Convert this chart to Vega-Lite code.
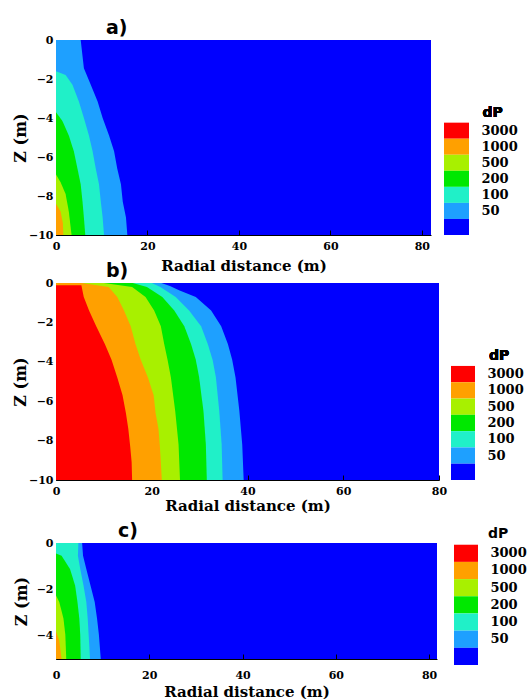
{
  "$schema": "https://vega.github.io/schema/vega-lite/v6.json",
  "padding": {"left": 12, "top": 19, "right": 0, "bottom": 0},
  "background": "white",
  "config": {
    "view": {"stroke": null},
    "axis": {"labelFont": "DejaVu Serif", "labelFontWeight": "bold", "labelFontSize": 11, "labelColor": "#000", "titleFont": "DejaVu Serif", "titleFontWeight": "bold", "titleFontSize": 15, "titleColor": "#000", "domainColor": "#000", "tickColor": "#000", "grid": false, "labelFlush": false},
    "title": {"font": "DejaVu Sans", "fontWeight": "bold", "fontSize": 19, "color": "#000", "anchor": "start", "frame": "group"}
  },
  "datasets": {
    "contours": [
      {"panel": "a", "level": 50, "z": 0, "r": 5.4},
      {"panel": "a", "level": 50, "z": -1.45, "r": 6.1},
      {"panel": "a", "level": 50, "z": -2.3, "r": 7.6},
      {"panel": "a", "level": 50, "z": -3.16, "r": 9.1},
      {"panel": "a", "level": 50, "z": -4, "r": 10.2},
      {"panel": "a", "level": 50, "z": -4.9, "r": 11.6},
      {"panel": "a", "level": 50, "z": -5.7, "r": 12.7},
      {"panel": "a", "level": 50, "z": -6.6, "r": 13.4},
      {"panel": "a", "level": 50, "z": -7.4, "r": 14.2},
      {"panel": "a", "level": 50, "z": -8.3, "r": 14.6},
      {"panel": "a", "level": 50, "z": -9.1, "r": 15.3},
      {"panel": "a", "level": 50, "z": -10, "r": 15.6},
      {"panel": "a", "level": 100, "z": -1.6, "r": 0},
      {"panel": "a", "level": 100, "z": -1.8, "r": 2.1},
      {"panel": "a", "level": 100, "z": -2.3, "r": 3.6},
      {"panel": "a", "level": 100, "z": -3.16, "r": 5.0},
      {"panel": "a", "level": 100, "z": -4, "r": 6.1},
      {"panel": "a", "level": 100, "z": -4.9, "r": 7.2},
      {"panel": "a", "level": 100, "z": -5.7, "r": 8.0},
      {"panel": "a", "level": 100, "z": -6.6, "r": 8.7},
      {"panel": "a", "level": 100, "z": -7.4, "r": 9.4},
      {"panel": "a", "level": 100, "z": -8.3, "r": 9.8},
      {"panel": "a", "level": 100, "z": -9.1, "r": 10.2},
      {"panel": "a", "level": 100, "z": -10, "r": 10.5},
      {"panel": "a", "level": 200, "z": -3.7, "r": 0},
      {"panel": "a", "level": 200, "z": -4.15, "r": 1.4},
      {"panel": "a", "level": 200, "z": -4.9, "r": 2.8},
      {"panel": "a", "level": 200, "z": -5.7, "r": 3.9},
      {"panel": "a", "level": 200, "z": -6.6, "r": 4.7},
      {"panel": "a", "level": 200, "z": -7.4, "r": 5.4},
      {"panel": "a", "level": 200, "z": -8.3, "r": 5.8},
      {"panel": "a", "level": 200, "z": -9.1, "r": 6.1},
      {"panel": "a", "level": 200, "z": -10, "r": 6.4},
      {"panel": "a", "level": 500, "z": -6.9, "r": 0},
      {"panel": "a", "level": 500, "z": -7.3, "r": 1.0},
      {"panel": "a", "level": 500, "z": -7.9, "r": 2.1},
      {"panel": "a", "level": 500, "z": -8.8, "r": 2.8},
      {"panel": "a", "level": 500, "z": -10, "r": 3.4},
      {"panel": "a", "level": 1000, "z": -8.4, "r": 0},
      {"panel": "a", "level": 1000, "z": -8.8, "r": 1.0},
      {"panel": "a", "level": 1000, "z": -9.4, "r": 1.5},
      {"panel": "a", "level": 1000, "z": -10, "r": 1.6},

      {"panel": "b", "level": 50, "z": 0, "r": 22},
      {"panel": "b", "level": 50, "z": -0.15, "r": 23.8},
      {"panel": "b", "level": 50, "z": -0.37, "r": 25.7},
      {"panel": "b", "level": 50, "z": -0.71, "r": 29.2},
      {"panel": "b", "level": 50, "z": -1.4, "r": 32.4},
      {"panel": "b", "level": 50, "z": -2.2, "r": 34.5},
      {"panel": "b", "level": 50, "z": -3.1, "r": 35.9},
      {"panel": "b", "level": 50, "z": -3.9, "r": 36.8},
      {"panel": "b", "level": 50, "z": -4.8, "r": 37.5},
      {"panel": "b", "level": 50, "z": -6.5, "r": 38.3},
      {"panel": "b", "level": 50, "z": -8.2, "r": 38.9},
      {"panel": "b", "level": 50, "z": -10, "r": 39.2},
      {"panel": "b", "level": 100, "z": 0, "r": 20},
      {"panel": "b", "level": 100, "z": -0.2, "r": 21.8},
      {"panel": "b", "level": 100, "z": -0.71, "r": 25.0},
      {"panel": "b", "level": 100, "z": -1.4, "r": 27.8},
      {"panel": "b", "level": 100, "z": -2.2, "r": 30.3},
      {"panel": "b", "level": 100, "z": -3.1, "r": 31.7},
      {"panel": "b", "level": 100, "z": -3.9, "r": 32.7},
      {"panel": "b", "level": 100, "z": -4.8, "r": 33.4},
      {"panel": "b", "level": 100, "z": -6.5, "r": 34.1},
      {"panel": "b", "level": 100, "z": -8.2, "r": 34.6},
      {"panel": "b", "level": 100, "z": -10, "r": 34.8},
      {"panel": "b", "level": 200, "z": 0, "r": 16},
      {"panel": "b", "level": 200, "z": -0.2, "r": 19},
      {"panel": "b", "level": 200, "z": -0.71, "r": 22.2},
      {"panel": "b", "level": 200, "z": -1.4, "r": 24.7},
      {"panel": "b", "level": 200, "z": -2.2, "r": 26.8},
      {"panel": "b", "level": 200, "z": -3.1, "r": 28.2},
      {"panel": "b", "level": 200, "z": -3.9, "r": 29.2},
      {"panel": "b", "level": 200, "z": -4.8, "r": 29.9},
      {"panel": "b", "level": 200, "z": -6.5, "r": 30.8},
      {"panel": "b", "level": 200, "z": -8.2, "r": 31.3},
      {"panel": "b", "level": 200, "z": -10, "r": 31.5},
      {"panel": "b", "level": 500, "z": 0, "r": 10},
      {"panel": "b", "level": 500, "z": -0.2, "r": 15.9},
      {"panel": "b", "level": 500, "z": -0.71, "r": 18.7},
      {"panel": "b", "level": 500, "z": -1.4, "r": 20.5},
      {"panel": "b", "level": 500, "z": -2.2, "r": 21.9},
      {"panel": "b", "level": 500, "z": -3.1, "r": 22.6},
      {"panel": "b", "level": 500, "z": -3.9, "r": 23.3},
      {"panel": "b", "level": 500, "z": -4.8, "r": 24.0},
      {"panel": "b", "level": 500, "z": -6.5, "r": 24.9},
      {"panel": "b", "level": 500, "z": -8.2, "r": 25.6},
      {"panel": "b", "level": 500, "z": -10, "r": 25.9},
      {"panel": "b", "level": 1000, "z": 0, "r": 5.3},
      {"panel": "b", "level": 1000, "z": -0.2, "r": 11.0},
      {"panel": "b", "level": 1000, "z": -0.71, "r": 12.8},
      {"panel": "b", "level": 1000, "z": -1.4, "r": 14.2},
      {"panel": "b", "level": 1000, "z": -2.2, "r": 15.6},
      {"panel": "b", "level": 1000, "z": -3.1, "r": 16.6},
      {"panel": "b", "level": 1000, "z": -3.9, "r": 17.7},
      {"panel": "b", "level": 1000, "z": -4.8, "r": 19.2},
      {"panel": "b", "level": 1000, "z": -5.7, "r": 20.4},
      {"panel": "b", "level": 1000, "z": -6.6, "r": 20.8},
      {"panel": "b", "level": 1000, "z": -7.4, "r": 21.4},
      {"panel": "b", "level": 1000, "z": -8.3, "r": 21.7},
      {"panel": "b", "level": 1000, "z": -9.1, "r": 21.9},
      {"panel": "b", "level": 1000, "z": -10, "r": 22.1},
      {"panel": "b", "level": 3000, "z": -0.12, "r": 5.3},
      {"panel": "b", "level": 3000, "z": -0.71, "r": 5.8},
      {"panel": "b", "level": 3000, "z": -1.4, "r": 6.9},
      {"panel": "b", "level": 3000, "z": -2.2, "r": 8.4},
      {"panel": "b", "level": 3000, "z": -3.1, "r": 10.2},
      {"panel": "b", "level": 3000, "z": -3.9, "r": 11.6},
      {"panel": "b", "level": 3000, "z": -4.8, "r": 12.8},
      {"panel": "b", "level": 3000, "z": -5.7, "r": 13.9},
      {"panel": "b", "level": 3000, "z": -6.6, "r": 14.6},
      {"panel": "b", "level": 3000, "z": -7.4, "r": 15.1},
      {"panel": "b", "level": 3000, "z": -8.3, "r": 15.5},
      {"panel": "b", "level": 3000, "z": -9.1, "r": 15.8},
      {"panel": "b", "level": 3000, "z": -10, "r": 15.9},

      {"panel": "c", "level": 50, "z": 0, "r": 5.6},
      {"panel": "c", "level": 50, "z": -0.55, "r": 5.8},
      {"panel": "c", "level": 50, "z": -1.12, "r": 6.5},
      {"panel": "c", "level": 50, "z": -1.83, "r": 7.4},
      {"panel": "c", "level": 50, "z": -2.54, "r": 8.3},
      {"panel": "c", "level": 50, "z": -3.25, "r": 8.8},
      {"panel": "c", "level": 50, "z": -3.96, "r": 9.2},
      {"panel": "c", "level": 50, "z": -5, "r": 9.6},
      {"panel": "c", "level": 100, "z": 0, "r": 4.8},
      {"panel": "c", "level": 100, "z": -0.55, "r": 4.7},
      {"panel": "c", "level": 100, "z": -1.12, "r": 5.2},
      {"panel": "c", "level": 100, "z": -1.83, "r": 5.9},
      {"panel": "c", "level": 100, "z": -2.54, "r": 6.5},
      {"panel": "c", "level": 100, "z": -3.25, "r": 6.8},
      {"panel": "c", "level": 100, "z": -3.96, "r": 7.0},
      {"panel": "c", "level": 100, "z": -5, "r": 7.3},
      {"panel": "c", "level": 200, "z": -0.45, "r": 0},
      {"panel": "c", "level": 200, "z": -0.55, "r": 1.2},
      {"panel": "c", "level": 200, "z": -1.12, "r": 3.0},
      {"panel": "c", "level": 200, "z": -1.83, "r": 4.1},
      {"panel": "c", "level": 200, "z": -2.54, "r": 4.6},
      {"panel": "c", "level": 200, "z": -3.25, "r": 5.0},
      {"panel": "c", "level": 200, "z": -3.96, "r": 5.2},
      {"panel": "c", "level": 200, "z": -5, "r": 5.3},
      {"panel": "c", "level": 500, "z": -2.26, "r": 0},
      {"panel": "c", "level": 500, "z": -2.54, "r": 0.7},
      {"panel": "c", "level": 500, "z": -3.25, "r": 1.6},
      {"panel": "c", "level": 500, "z": -3.96, "r": 2.0},
      {"panel": "c", "level": 500, "z": -5, "r": 2.2},
      {"panel": "c", "level": 1000, "z": -3.8, "r": 0},
      {"panel": "c", "level": 1000, "z": -4.2, "r": 0.7},
      {"panel": "c", "level": 1000, "z": -5, "r": 1.2}
    ],
    "legend": [
      {"level": 3000}, {"level": 1000}, {"level": 500}, {"level": 200}, {"level": 100}, {"level": 50}, {"level": 0}
    ]
  },
  "vconcat": [
    {
      "hconcat": [
        {
          "title": {"text": "a)", "dx": 50, "offset": -4},
          "width": 375, "height": 195,
          "view": {"fill": "#0000FF", "stroke": null},
          "data": {"name": "contours"},
          "transform": [{"filter": "datum.panel == 'a'"}],
          "mark": {"type": "area", "orient": "horizontal"},
          "encoding": {
            "y": {"field": "z", "type": "quantitative", "scale": {"domain": [-10, 0], "nice": false}, "axis": {"values": [0, -2, -4, -6, -8, -10], "title": "Z (m)", "tickSize": -5, "labelPadding": 8, "titlePadding": 0, "titleFontSize": 16}},
            "x": {"field": "r", "type": "quantitative", "stack": null, "scale": {"domain": [0, 82], "nice": false}, "axis": {"values": [0, 20, 40, 60, 80], "title": "Radial distance (m)", "tickSize": -5, "labelPadding": 10, "titlePadding": 7}},
            "x2": {"datum": 0},
            "color": {"field": "level", "type": "ordinal", "scale": {"domain": [0, 50, 100, 200, 500, 1000, 3000], "range": ["#0000FF", "#1EA0FF", "#20F0C8", "#00E800", "#A8F000", "#FFA000", "#FF0000"]}, "legend": null}
          }
        },
        {
          "width": 25, "height": 195,
          "data": {"name": "legend"},
          "layer": [
            {
              "mark": {"type": "rect"},
              "encoding": {
                "y": {"field": "level", "type": "ordinal", "scale": {"domain": ["p1", "p2", "p3", "p4", "dP", 3000, 1000, 500, 200, 100, 50, 0], "paddingInner": 0, "paddingOuter": 0.075, "align": 1}, "axis": {"orient": "right", "bandPosition": 1, "ticks": false, "domain": false, "labelPadding": 12, "labelFontSize": 13, "title": null, "labelExpr": "indexof(['3000','1000','500','200','100','50'], datum.label) >= 0 ? datum.label : ''"}},
                "color": {"field": "level", "type": "ordinal", "legend": null}
              }
            },
            {
              "mark": {"type": "text", "align": "left", "baseline": "middle", "dx": 26, "dy": -2, "font": "DejaVu Sans", "fontWeight": "bold", "fontSize": 14, "color": "#000"},
              "encoding": {
                "y": {"datum": "dP", "type": "ordinal"},
                "text": {"value": "dP"}
              }
            }
          ]
        }
      ],
      "spacing": 13
    },
    {
      "vconcat": [
        {
          "hconcat": [
            {
              "title": {"text": "b)", "dx": 50, "offset": -4},
              "width": 383, "height": 197,
              "view": {"fill": "#0000FF", "stroke": null},
              "data": {"name": "contours"},
              "transform": [{"filter": "datum.panel == 'b'"}],
              "mark": {"type": "area", "orient": "horizontal"},
              "encoding": {
                "y": {"field": "z", "type": "quantitative", "scale": {"domain": [-10, 0], "nice": false}, "axis": {"values": [0, -2, -4, -6, -8, -10], "title": "Z (m)", "tickSize": -5, "labelPadding": 8, "titlePadding": 0, "titleFontSize": 16}},
                "x": {"field": "r", "type": "quantitative", "stack": null, "scale": {"domain": [0, 80], "nice": false}, "axis": {"values": [0, 20, 40, 60, 80], "title": "Radial distance (m)", "tickSize": -5, "labelPadding": 10, "titlePadding": 2}},
                "x2": {"datum": 0},
                "color": {"field": "level", "type": "ordinal", "legend": null}
              }
            },
            {
              "width": 24, "height": 197,
              "data": {"name": "legend"},
              "layer": [
                {
                  "mark": {"type": "rect"},
                  "encoding": {
                    "y": {"field": "level", "type": "ordinal", "scale": {"domain": ["p1", "p2", "p3", "p4", "dP", 3000, 1000, 500, 200, 100, 50, 0], "paddingInner": 0, "paddingOuter": 0.045, "align": 1}, "axis": {"orient": "right", "bandPosition": 1, "ticks": false, "domain": false, "labelPadding": 12, "labelFontSize": 13, "title": null, "labelExpr": "indexof(['3000','1000','500','200','100','50'], datum.label) >= 0 ? datum.label : ''"}},
                    "color": {"field": "level", "type": "ordinal", "legend": null}
                  }
                },
                {
                  "mark": {"type": "text", "align": "left", "baseline": "middle", "dx": 26, "dy": -2, "font": "DejaVu Sans", "fontWeight": "bold", "fontSize": 14, "color": "#000"},
                  "encoding": {
                    "y": {"datum": "dP", "type": "ordinal"},
                    "text": {"value": "dP"}
                  }
                }
              ]
            }
          ],
          "spacing": 4
        },
        {
          "hconcat": [
            {
              "title": {"text": "c)", "dx": 62, "offset": -4},
              "width": 381, "height": 116,
              "view": {"fill": "#0000FF", "stroke": null},
              "data": {"name": "contours"},
              "transform": [{"filter": "datum.panel == 'c'"}],
              "mark": {"type": "area", "orient": "horizontal"},
              "encoding": {
                "y": {"field": "z", "type": "quantitative", "scale": {"domain": [-5, 0], "nice": false}, "axis": {"values": [0, -2, -4], "title": "Z (m)", "tickSize": -5, "labelPadding": 8, "titlePadding": 7, "titleFontSize": 16}},
                "x": {"field": "r", "type": "quantitative", "stack": null, "scale": {"domain": [0, 81.7], "nice": false}, "axis": {"values": [0, 20, 40, 60, 80], "title": "Radial distance (m)", "tickSize": -5, "labelPadding": 15, "titlePadding": 4}},
                "x2": {"datum": 0},
                "color": {"field": "level", "type": "ordinal", "legend": null}
              }
            },
            {
              "title": {"text": "dP", "dx": 34, "offset": 2, "fontSize": 14},
              "width": 24, "height": 122,
              "data": {"name": "legend"},
              "mark": {"type": "rect"},
              "encoding": {
                "y": {"field": "level", "type": "ordinal", "scale": {"domain": [3000, 1000, 500, 200, 100, 50, 0], "paddingInner": 0, "paddingOuter": 0.05, "align": 1}, "axis": {"orient": "right", "bandPosition": 1, "ticks": false, "domain": false, "labelPadding": 12, "labelFontSize": 13, "title": null, "labelExpr": "datum.label == '0' ? '' : datum.label"}},
                "color": {"field": "level", "type": "ordinal", "legend": null}
              }
            }
          ],
          "spacing": 17
        }
      ],
      "spacing": 9
    }
  ],
  "spacing": -11
}
